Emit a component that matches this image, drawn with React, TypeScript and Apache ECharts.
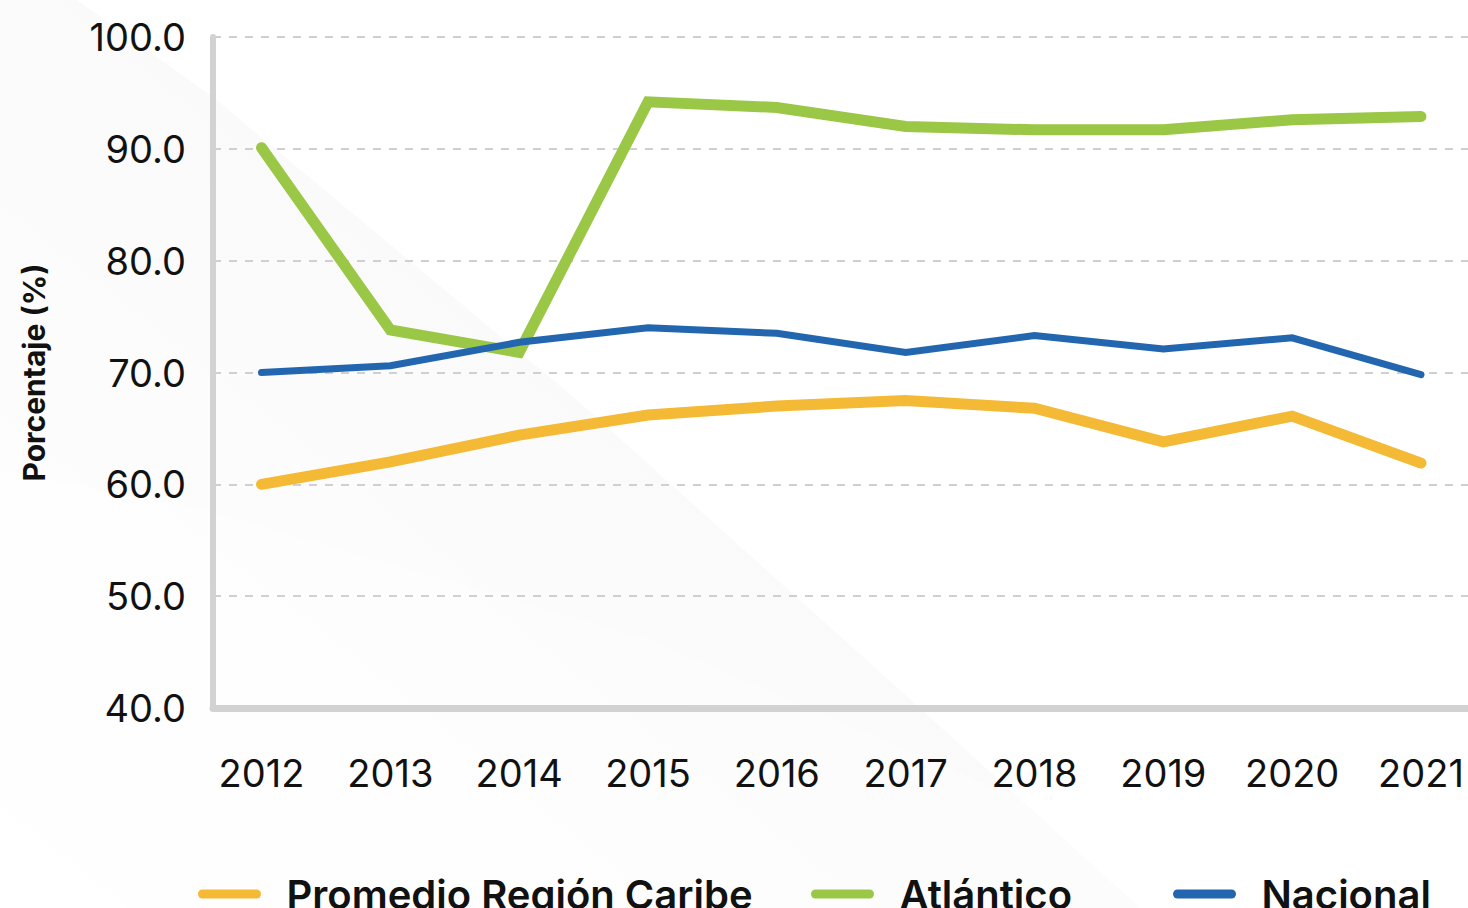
import React, { useEffect, useRef } from "react";
import * as echarts from "echarts";

const years = [2012, 2013, 2014, 2015, 2016, 2017, 2018, 2019, 2020, 2021];
const caribe = [60.0, 62.0, 64.4, 66.2, 67.0, 67.5, 66.8, 63.8, 66.1, 61.9];
const atlantico = [90.1, 73.8, 71.8, 94.2, 93.7, 92.0, 91.7, 91.7, 92.6, 92.9];
const nacional = [70.0, 70.6, 72.7, 74.0, 73.5, 71.8, 73.3, 72.1, 73.1, 69.8];
const yTicks = [40, 50, 60, 70, 80, 90, 100];

const seriesNames = ["Promedio Región Caribe", "Atlántico", "Nacional"];
const colors = ["#F4B935", "#9AC746", "#2266B0"];

const FONT = "Inter, 'DejaVu Sans', sans-serif";
const pill = "path://M5,0 H65 A5,5 0 0 1 65,10 H5 A5,5 0 0 1 5,0 Z";

export default function App() {
  const ref = useRef<HTMLDivElement>(null);
  useEffect(() => {
    if (!ref.current) return;
    const chart = echarts.init(ref.current, null, { renderer: "svg" });
    const pairs = (vals: number[]) => years.map((y, i) => [y, vals[i]]);
    const legendBase = (name: string, left: number) => ({
      data: [name],
      left,
      top: 867,
      orient: "horizontal",
      icon: pill,
      itemWidth: 70,
      itemHeight: 9,
      selectedMode: false,
      textStyle: {
        fontFamily: FONT,
        fontSize: 40,
        fontWeight: 600,
        color: "#111",
        lineHeight: 44,
        padding: [0, 0, 0, 17],
      },
    });
    chart.setOption({
      animation: false,
      backgroundColor: "#ffffff",
      graphic: [
        {
          type: "polygon",
          z: -10,
          silent: true,
          shape: {
            points: [
              [77, 0],
              [213, 97],
              [577, 400],
              [900, 690],
              [1140, 908],
              [0, 908],
              [0, 0],
            ],
          },
          style: {
            fill: new echarts.graphic.LinearGradient(1, 0, 0, 1, [
              { offset: 0, color: "rgba(0,0,0,0.035)" },
              { offset: 0.5, color: "rgba(0,0,0,0.018)" },
              { offset: 1, color: "rgba(0,0,0,0.0)" },
            ]),
          },
        },
        {
          type: "polygon",
          z: -9,
          silent: true,
          shape: {
            points: [
              [0, 470],
              [213, 512],
              [650, 640],
              [1000, 790],
              [1468, 908],
              [0, 908],
            ],
          },
          style: { fill: "rgba(255,255,255,0.4)" },
        },
      ],
      grid: { left: 213, right: 0, top: 37, bottom: 200, containLabel: false },
      legend: [
        legendBase(seriesNames[0], 193),
        legendBase(seriesNames[1], 806),
        legendBase(seriesNames[2], 1168),
      ],
      xAxis: {
        type: "value",
        min: 2011.6235,
        max: 2021.365,
        axisLine: { show: true, onZero: false, lineStyle: { color: "#d2d2d2", width: 7 } },
        axisTick: { show: false },
        splitLine: { show: false },
        axisLabel: {
          customValues: years,
          formatter: (v: number) => String(Math.round(v)),
          fontFamily: FONT,
          fontSize: 38,
          color: "#111",
          margin: 46,
        },
      },
      yAxis: {
        type: "value",
        min: 40,
        max: 100,
        interval: 10,
        name: "Porcentaje (%)",
        nameLocation: "middle",
        nameGap: 164,
        nameTextStyle: { fontFamily: FONT, fontSize: 30, fontWeight: 700, color: "#111" },
        axisLine: { show: true, lineStyle: { color: "#d2d2d2", width: 6 } },
        axisTick: { show: false },
        axisLabel: {
          customValues: yTicks,
          formatter: (v: number) => v.toFixed(1),
          fontFamily: FONT,
          fontSize: 38,
          color: "#111",
          margin: 27,
          verticalAlign: "middle",
          padding: [0, 0, 6, 0],
        },
        splitLine: {
          show: true,
          lineStyle: { color: "#d0d0d0", width: 2, type: [8, 8] },
        },
      },
      series: [
        {
          name: seriesNames[0],
          type: "line",
          data: pairs(caribe),
          color: colors[0],
          showSymbol: false,
          symbol: "none",
          lineStyle: { width: 11, color: colors[0], cap: "round", join: "miter" },
          z: 3,
        },
        {
          name: seriesNames[1],
          type: "line",
          data: pairs(atlantico),
          color: colors[1],
          showSymbol: false,
          symbol: "none",
          lineStyle: { width: 11, color: colors[1], cap: "round", join: "miter" },
          z: 4,
        },
        {
          name: seriesNames[2],
          type: "line",
          data: pairs(nacional),
          color: colors[2],
          showSymbol: false,
          symbol: "none",
          lineStyle: { width: 7, color: colors[2], cap: "round", join: "miter" },
          z: 5,
        },
      ],
    });
    return () => chart.dispose();
  }, []);
  return (
    <div
      ref={ref}
      style={{ position: "fixed", left: 0, top: 0, width: 1468, height: 908 }}
    />
  );
}
